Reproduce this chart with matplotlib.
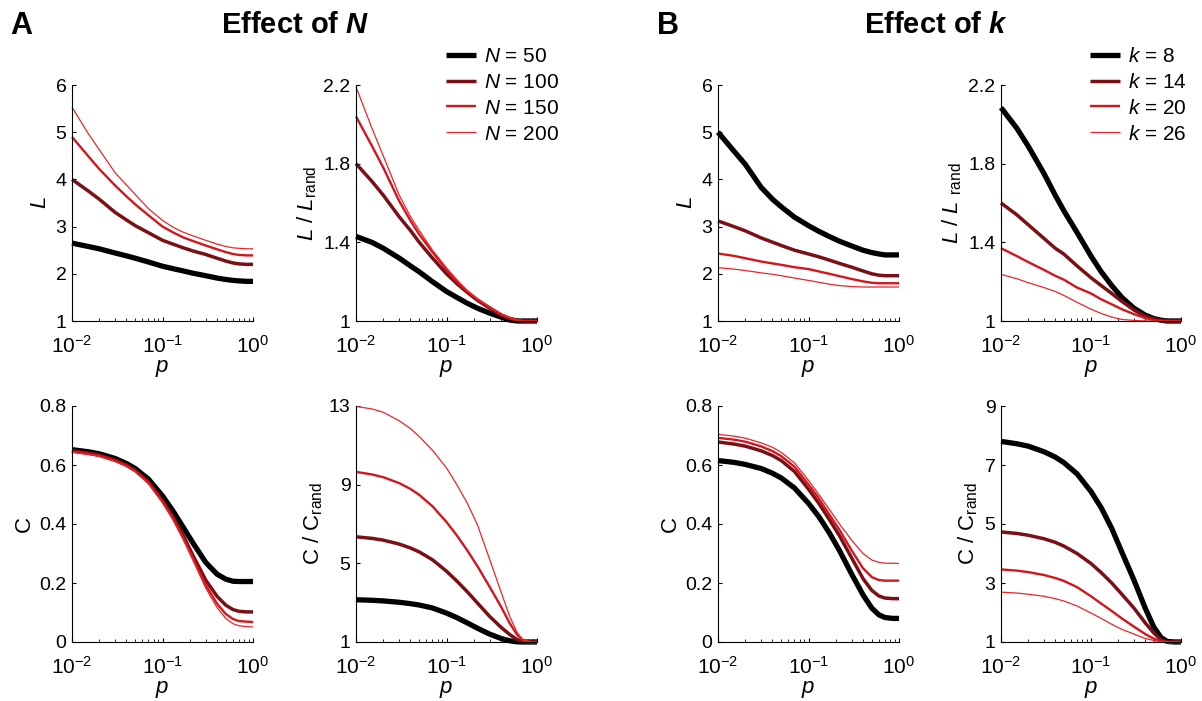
import matplotlib
matplotlib.use("Agg")
import matplotlib.pyplot as plt

plt.rcParams['font.family'] = ['Liberation Sans', 'DejaVu Sans']
plt.rcParams['mathtext.fontset'] = 'custom'
plt.rcParams['mathtext.rm'] = 'Liberation Sans'
plt.rcParams['mathtext.it'] = 'Liberation Sans:italic'
plt.rcParams['mathtext.bf'] = 'Liberation Sans:bold:italic'

# rewiring probability (shared x grid)
p = [0.01, 0.015, 0.02, 0.03, 0.04, 0.05, 0.07, 0.1, 0.13, 0.17, 0.22, 0.3, 0.4, 0.5, 0.6, 0.7, 0.85, 1.0]

# ---- A: effect of N ----
n_labels = ["50", "100", "150", "200"]
L_N = [
    [2.65, 2.58, 2.53, 2.44, 2.38, 2.33, 2.25, 2.16, 2.11, 2.06, 2.01, 1.96, 1.91, 1.88, 1.86, 1.85, 1.84, 1.84],
    [4.0, 3.76, 3.58, 3.3, 3.14, 3.02, 2.87, 2.71, 2.63, 2.55, 2.48, 2.41, 2.33, 2.27, 2.23, 2.21, 2.2, 2.2],
    [4.9, 4.5, 4.22, 3.87, 3.64, 3.47, 3.24, 3.0, 2.88, 2.77, 2.69, 2.6, 2.52, 2.46, 2.42, 2.4, 2.39, 2.39],
    [5.53, 4.98, 4.63, 4.14, 3.88, 3.68, 3.38, 3.13, 2.99, 2.88, 2.8, 2.71, 2.63, 2.58, 2.55, 2.54, 2.53, 2.53],
]
Lr_N = [
    [1.43, 1.40, 1.37, 1.32, 1.28, 1.25, 1.2, 1.15, 1.12, 1.09, 1.065, 1.04, 1.02, 1.005, 1.0, 1.0, 1.0, 1.0],
    [1.8, 1.71, 1.64, 1.53, 1.46, 1.4, 1.32, 1.24, 1.19, 1.145, 1.105, 1.065, 1.03, 1.013, 1.004, 1.0, 1.0, 1.0],
    [2.04, 1.89, 1.78, 1.61, 1.51, 1.44, 1.35, 1.26, 1.2, 1.15, 1.11, 1.07, 1.035, 1.015, 1.005, 1.0, 1.0, 1.0],
    [2.19, 1.98, 1.84, 1.64, 1.53, 1.46, 1.36, 1.27, 1.21, 1.155, 1.113, 1.072, 1.036, 1.015, 1.005, 1.0, 1.0, 1.0],
]
C_N = [
    [0.652, 0.645, 0.638, 0.622, 0.605, 0.588, 0.552, 0.495, 0.445, 0.388, 0.333, 0.27, 0.23, 0.213, 0.206, 0.205, 0.205, 0.205],
    [0.648, 0.641, 0.634, 0.617, 0.6, 0.582, 0.543, 0.48, 0.425, 0.36, 0.29, 0.21, 0.155, 0.125, 0.11, 0.104, 0.102, 0.102],
    [0.645, 0.638, 0.631, 0.614, 0.597, 0.579, 0.54, 0.476, 0.42, 0.352, 0.28, 0.193, 0.13, 0.095, 0.078, 0.071, 0.069, 0.068],
    [0.643, 0.636, 0.629, 0.612, 0.595, 0.577, 0.537, 0.472, 0.415, 0.346, 0.273, 0.183, 0.117, 0.08, 0.062, 0.055, 0.052, 0.051],
]
Cr_N = [
    [3.15, 3.12, 3.09, 3.02, 2.95, 2.88, 2.73, 2.47, 2.24, 1.97, 1.7, 1.4, 1.18, 1.06, 1.01, 1.0, 1.0, 1.0],
    [6.35, 6.27, 6.18, 5.98, 5.78, 5.58, 5.18, 4.6, 4.1, 3.55, 2.98, 2.3, 1.75, 1.38, 1.13, 1.02, 1.0, 1.0],
    [9.65, 9.52, 9.38, 9.08, 8.78, 8.48, 7.9, 7.1, 6.42, 5.65, 4.85, 3.8, 2.8, 1.95, 1.38, 1.08, 1.0, 1.0],
    [12.98, 12.85, 12.68, 12.25, 11.85, 11.45, 10.75, 9.85, 9.0, 8.05, 6.95, 5.2, 3.55, 2.3, 1.5, 1.1, 1.0, 1.0],
]

# ---- B: effect of k ----
k_labels = ["8", "14", "20", "26"]
L_k = [
    [5.0, 4.6, 4.32, 3.83, 3.58, 3.42, 3.2, 3.02, 2.9, 2.79, 2.69, 2.59, 2.5, 2.45, 2.42, 2.4, 2.4, 2.4],
    [3.12, 3.0, 2.91, 2.76, 2.67, 2.6, 2.5, 2.42, 2.36, 2.29, 2.22, 2.14, 2.06, 2.0, 1.97, 1.96, 1.96, 1.96],
    [2.43, 2.38, 2.33, 2.26, 2.22, 2.19, 2.14, 2.1, 2.05, 2.0, 1.95, 1.89, 1.84, 1.81, 1.8, 1.8, 1.8, 1.8],
    [2.13, 2.1, 2.07, 2.02, 1.99, 1.96, 1.91, 1.86, 1.82, 1.78, 1.75, 1.73, 1.72, 1.72, 1.72, 1.72, 1.72, 1.72],
]
Lr_k = [
    [2.085, 1.98, 1.89, 1.75, 1.64, 1.56, 1.45, 1.33, 1.25, 1.18, 1.12, 1.065, 1.03, 1.012, 1.004, 1.0, 1.0, 1.0],
    [1.6, 1.54, 1.49, 1.42, 1.37, 1.34, 1.28, 1.22, 1.18, 1.14, 1.1, 1.056, 1.025, 1.01, 1.003, 1.0, 1.0, 1.0],
    [1.37, 1.33, 1.3, 1.26, 1.23, 1.21, 1.17, 1.14, 1.11, 1.085, 1.06, 1.035, 1.015, 1.005, 1.0, 1.0, 1.0, 1.0],
    [1.237, 1.215, 1.195, 1.17, 1.15, 1.13, 1.095, 1.06, 1.038, 1.02, 1.008, 1.003, 1.0, 1.0, 1.0, 1.0, 1.0, 1.0],
]
C_k = [
    [0.615, 0.609, 0.602, 0.588, 0.572, 0.556, 0.522, 0.47, 0.425, 0.37, 0.31, 0.23, 0.16, 0.115, 0.092, 0.083, 0.08, 0.08],
    [0.678, 0.671, 0.664, 0.648, 0.632, 0.615, 0.578, 0.518, 0.47, 0.415, 0.36, 0.285, 0.215, 0.175, 0.156, 0.149, 0.147, 0.147],
    [0.692, 0.686, 0.679, 0.663, 0.647, 0.63, 0.594, 0.534, 0.487, 0.432, 0.38, 0.31, 0.25, 0.22, 0.21, 0.208, 0.208, 0.208],
    [0.704, 0.698, 0.691, 0.675, 0.66, 0.643, 0.607, 0.548, 0.5, 0.45, 0.4, 0.345, 0.3, 0.278, 0.27, 0.267, 0.267, 0.266],
]
Cr_k = [
    [7.8, 7.72, 7.64, 7.45, 7.27, 7.08, 6.7, 6.1, 5.55, 4.85, 4.05, 3.1, 2.15, 1.5, 1.15, 1.02, 1.0, 1.0],
    [4.73, 4.68, 4.62, 4.5, 4.38, 4.25, 4.0, 3.66, 3.35, 3.0, 2.62, 2.15, 1.65, 1.3, 1.08, 1.0, 1.0, 1.0],
    [3.46, 3.42, 3.37, 3.27, 3.17, 3.07, 2.86, 2.55, 2.3, 2.05, 1.8, 1.52, 1.27, 1.11, 1.03, 1.0, 1.0, 1.0],
    [2.69, 2.66, 2.62, 2.55, 2.47, 2.39, 2.22, 1.98, 1.8, 1.6, 1.43, 1.27, 1.12, 1.05, 1.01, 1.0, 1.0, 1.0],
]

colors = ["black", "#7a1016", "#d4161c", "#e8262c"]
widths = [3.8, 2.5, 1.7, 0.9]

fig = plt.figure(figsize=(12.02, 7.01), dpi=100)

W, H = 1202, 701
def add_ax(x0, x1, ytop, ybot):
    return fig.add_axes([x0 / W, 1 - ybot / H, (x1 - x0) / W, (ybot - ytop) / H])

def style(ax, ylim, yticks, ylabel):
    ax.set_xscale("log")
    ax.set_xlim(0.01, 1)
    ax.set_ylim(*ylim)
    ax.set_yticks(yticks)
    ax.set_yticklabels([f"{t:g}" for t in yticks])
    ax.spines["top"].set_visible(False)
    ax.spines["right"].set_visible(False)
    ax.tick_params(axis="y", direction="in", labelsize=14, length=3, pad=4)
    ax.tick_params(axis="x", direction="in", labelsize=15, length=3, pad=10)
    ax.tick_params(which="minor", direction="in", length=2)
    ax.set_xlabel(r"$p$", fontsize=16, labelpad=1)
    ax.set_ylabel(ylabel, fontsize=16, labelpad=3)

def draw(ax, series):
    for s, c, lw in zip(series, colors, widths):
        ax.plot(p, s, color=c, lw=lw, clip_on=False, solid_capstyle="butt")

cols = [(72, 253), (356, 537), (718, 899), (1001, 1181)]
top_row = (85, 321)
bot_row = (406, 642)

panels = [
    (cols[0], top_row, L_N, (1, 6), [1, 2, 3, 4, 5, 6], r"$L$"),
    (cols[1], top_row, Lr_N, (1, 2.2), [1, 1.4, 1.8, 2.2], r"$L$ / $L_{\mathrm{rand}}$"),
    (cols[0], bot_row, C_N, (0, 0.8), [0, 0.2, 0.4, 0.6, 0.8], r"C"),
    (cols[1], bot_row, Cr_N, (1, 13), [1, 5, 9, 13], r"C / C$_{\mathrm{rand}}$"),
    (cols[2], top_row, L_k, (1, 6), [1, 2, 3, 4, 5, 6], r"$L$"),
    (cols[3], top_row, Lr_k, (1, 2.2), [1, 1.4, 1.8, 2.2], r"$L$ / $L$ $_{\mathrm{rand}}$"),
    (cols[2], bot_row, C_k, (0, 0.8), [0, 0.2, 0.4, 0.6, 0.8], r"C"),
    (cols[3], bot_row, Cr_k, (1, 9), [1, 3, 5, 7, 9], r"C / C$_{\mathrm{rand}}$"),
]

axes = []
for (x0, x1), (yt, yb), data, ylim, yt_, lab in panels:
    ax = add_ax(x0, x1, yt, yb)
    style(ax, ylim, yt_, lab)
    draw(ax, data)
    axes.append(ax)

# legends
hA = axes[0].get_lines()
fig.legend(hA, [rf"$N$ = {n}" for n in n_labels], loc="upper left",
           bbox_to_anchor=(446 / W, 1 - 47 / H), frameon=False, fontsize=15,
           handlelength=1.45, handletextpad=0.35, labelspacing=0.33, borderpad=0,
           borderaxespad=0)
hB = axes[4].get_lines()
fig.legend(hB, [rf"$k$ = {k}" for k in k_labels], loc="upper left",
           bbox_to_anchor=(1090 / W, 1 - 47 / H), frameon=False, fontsize=15,
           handlelength=1.45, handletextpad=0.35, labelspacing=0.33, borderpad=0,
           borderaxespad=0)

# panel letters and titles
fig.text(10 / W, 1 - 26 / H, "A", fontsize=22, fontweight="bold", va="center")
fig.text(657 / W, 1 - 26 / H, "B", fontsize=22, fontweight="bold", va="center")
fig.text(295 / W, 1 - 25 / H, r"Effect of $\mathbf{N}$", fontsize=21,
         fontweight="bold", ha="center", va="center")
fig.text(936 / W, 1 - 25 / H, r"Effect of $\mathbf{k}$", fontsize=21,
         fontweight="bold", ha="center", va="center")

fig.savefig("out.png", dpi=100)
